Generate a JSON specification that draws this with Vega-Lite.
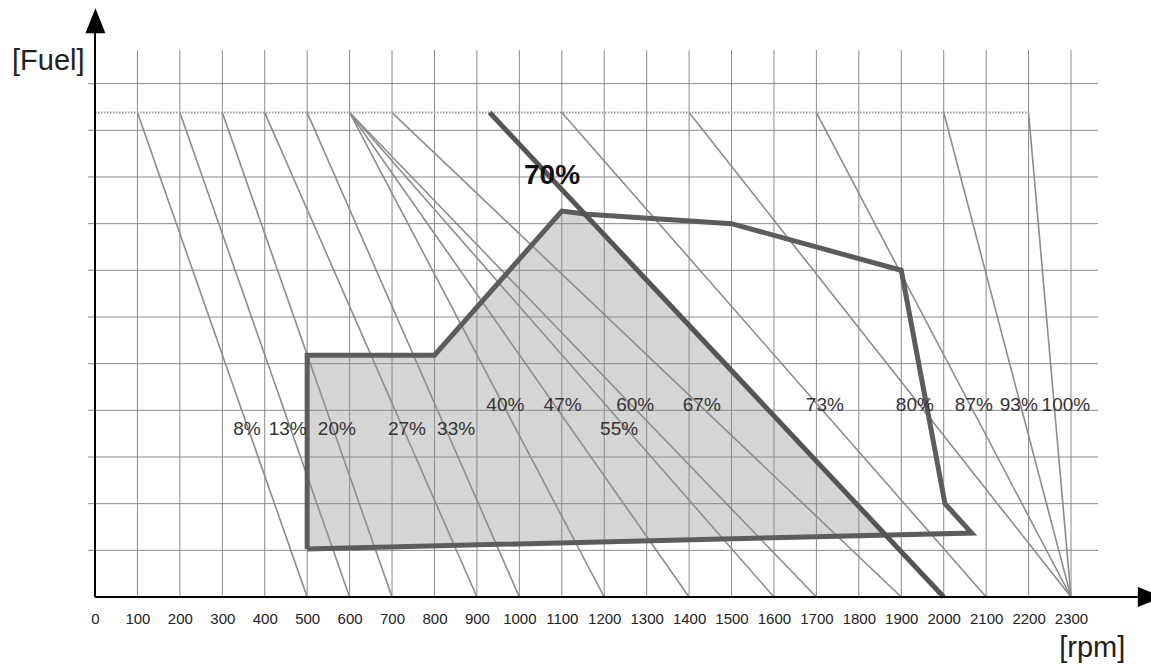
{
  "$schema": "https://vega.github.io/schema/vega-lite/v6.json",
  "width": 1056,
  "height": 597,
  "autosize": {"type": "none"},
  "padding": {"left": 95, "top": 0, "right": 0, "bottom": 67},
  "background": "white",
  "config": {"view": {"stroke": null}},
  "datasets": {
    "vgrid": [{"rpm":100},{"rpm":200},{"rpm":300},{"rpm":400},{"rpm":500},{"rpm":600},{"rpm":700},{"rpm":800},{"rpm":900},{"rpm":1000},{"rpm":1100},{"rpm":1200},{"rpm":1300},{"rpm":1400},{"rpm":1500},{"rpm":1600},{"rpm":1700},{"rpm":1800},{"rpm":1900},{"rpm":2000},{"rpm":2100},{"rpm":2200},{"rpm":2300}],
    "hgrid": [{"fuel":1},{"fuel":2},{"fuel":3},{"fuel":4},{"fuel":5},{"fuel":6},{"fuel":7},{"fuel":8},{"fuel":9},{"fuel":10},{"fuel":11}],
    "shade": [
      {"rpm":500,"fuel":5.18,"fuel_low":1.03},
      {"rpm":800,"fuel":5.18,"fuel_low":1.095},
      {"rpm":1100,"fuel":8.27,"fuel_low":1.16},
      {"rpm":1153,"fuel":8.21,"fuel_low":1.17},
      {"rpm":1863,"fuel":1.33,"fuel_low":1.33}
    ],
    "droop": [
      {"id":"8%","rpm":100,"fuel":10.38},{"id":"8%","rpm":500,"fuel":0},
      {"id":"13%","rpm":200,"fuel":10.38},{"id":"13%","rpm":600,"fuel":0},
      {"id":"20%","rpm":300,"fuel":10.38},{"id":"20%","rpm":700,"fuel":0},
      {"id":"27%","rpm":400,"fuel":10.38},{"id":"27%","rpm":900,"fuel":0},
      {"id":"33%","rpm":500,"fuel":10.38},{"id":"33%","rpm":1000,"fuel":0},
      {"id":"40%","rpm":600,"fuel":10.38},{"id":"40%","rpm":1200,"fuel":0},
      {"id":"47%","rpm":600,"fuel":10.38},{"id":"47%","rpm":1400,"fuel":0},
      {"id":"55%","rpm":600,"fuel":10.38},{"id":"55%","rpm":1600,"fuel":0},
      {"id":"60%","rpm":600,"fuel":10.38},{"id":"60%","rpm":1700,"fuel":0},
      {"id":"67%","rpm":700,"fuel":10.38},{"id":"67%","rpm":1900,"fuel":0},
      {"id":"73%","rpm":1100,"fuel":10.38},{"id":"73%","rpm":2100,"fuel":0},
      {"id":"80%","rpm":1400,"fuel":10.38},{"id":"80%","rpm":2300,"fuel":0},
      {"id":"87%","rpm":1700,"fuel":10.38},{"id":"87%","rpm":2300,"fuel":0},
      {"id":"93%","rpm":2000,"fuel":10.38},{"id":"93%","rpm":2300,"fuel":0},
      {"id":"100%","rpm":2200,"fuel":10.38},{"id":"100%","rpm":2300,"fuel":0}
    ],
    "toplimit": [{"rpm":0,"fuel":10.38},{"rpm":2200,"fuel":10.38}],
    "outline": [
      {"seq":1,"rpm":500,"fuel":1.03},
      {"seq":2,"rpm":500,"fuel":5.18},
      {"seq":3,"rpm":800,"fuel":5.18},
      {"seq":4,"rpm":1100,"fuel":8.27},
      {"seq":5,"rpm":1160,"fuel":8.2},
      {"seq":6,"rpm":1500,"fuel":8.0},
      {"seq":7,"rpm":1900,"fuel":7.0},
      {"seq":8,"rpm":2003,"fuel":2.0},
      {"seq":9,"rpm":2066,"fuel":1.37},
      {"seq":10,"rpm":500,"fuel":1.03}
    ],
    "line70": [{"rpm":930,"fuel":10.38},{"rpm":2000,"fuel":0}],
    "pct": [
      {"label":"8%","rpm":358,"fuel":3.6},
      {"label":"13%","rpm":454,"fuel":3.6},
      {"label":"20%","rpm":570,"fuel":3.6},
      {"label":"27%","rpm":735,"fuel":3.6},
      {"label":"33%","rpm":851,"fuel":3.6},
      {"label":"40%","rpm":967,"fuel":4.11},
      {"label":"47%","rpm":1102,"fuel":4.11},
      {"label":"55%","rpm":1235,"fuel":3.6},
      {"label":"60%","rpm":1273,"fuel":4.11},
      {"label":"67%","rpm":1430,"fuel":4.11},
      {"label":"73%","rpm":1720,"fuel":4.11},
      {"label":"80%","rpm":1932,"fuel":4.11},
      {"label":"87%","rpm":2071,"fuel":4.11},
      {"label":"93%","rpm":2177,"fuel":4.11},
      {"label":"100%","rpm":2288,"fuel":4.11}
    ],
    "bold": [{"label":"70%","rpm":1077,"fuel":9.02}],
    "titles": [
      {"label":"[Fuel]","rpm":-110,"fuel":11.49},
      {"label":"[rpm]","rpm":2350,"fuel":-1.1}
    ],
    "axes": [
      {"rpm":0,"fuel":0,"rpm2":0,"fuel2":12.1},
      {"rpm":0,"fuel":0,"rpm2":2460,"fuel2":0}
    ],
    "arrowUp": [{"rpm":1,"fuel":12.35}],
    "arrowRight": [{"rpm":2487,"fuel":0}]
  },
  "layer": [
    {
      "data": {"name": "shade"},
      "mark": {"type": "area", "color": "#d5d5d5", "opacity": 1},
      "encoding": {
        "x": {"field": "rpm", "type": "quantitative", "scale": {"domain": [0, 2488.5], "nice": false, "zero": false},
          "axis": {"values": [0,100,200,300,400,500,600,700,800,900,1000,1100,1200,1300,1400,1500,1600,1700,1800,1900,2000,2100,2200,2300], "format": "d", "domain": false, "ticks": false, "grid": false, "title": null, "labelFont": "Liberation Sans", "labelFontSize": 15, "labelColor": "#222222", "labelPadding": 14, "labelFlush": false, "labelOverlap": false}},
        "y": {"field": "fuel", "type": "quantitative", "scale": {"domain": [0, 12.792], "nice": false, "zero": false}, "axis": null},
        "y2": {"field": "fuel_low"}
      }
    },
    {
      "data": {"name": "vgrid"},
      "mark": {"type": "rule", "color": "#8a8a8a", "strokeWidth": 1},
      "encoding": {
        "x": {"field": "rpm", "type": "quantitative", "scale": {"domain": [0, 2488.5], "nice": false, "zero": false},
          "axis": {"values": [0,100,200,300,400,500,600,700,800,900,1000,1100,1200,1300,1400,1500,1600,1700,1800,1900,2000,2100,2200,2300], "format": "d", "domain": false, "ticks": false, "grid": false, "title": null, "labelFont": "Liberation Sans", "labelFontSize": 15, "labelColor": "#222222", "labelPadding": 14, "labelFlush": false, "labelOverlap": false}},
        "y": {"datum": 0, "type": "quantitative", "scale": {"domain": [0, 12.792], "nice": false, "zero": false}, "axis": null},
        "y2": {"datum": 11.72}
      }
    },
    {
      "data": {"name": "hgrid"},
      "mark": {"type": "rule", "color": "#8a8a8a", "strokeWidth": 1},
      "encoding": {
        "x": {"datum": -16.5, "type": "quantitative", "scale": {"domain": [0, 2488.5], "nice": false, "zero": false},
          "axis": {"values": [0,100,200,300,400,500,600,700,800,900,1000,1100,1200,1300,1400,1500,1600,1700,1800,1900,2000,2100,2200,2300], "format": "d", "domain": false, "ticks": false, "grid": false, "title": null, "labelFont": "Liberation Sans", "labelFontSize": 15, "labelColor": "#222222", "labelPadding": 14, "labelFlush": false, "labelOverlap": false}},
        "x2": {"datum": 2364},
        "y": {"field": "fuel", "type": "quantitative", "scale": {"domain": [0, 12.792], "nice": false, "zero": false}, "axis": null}
      }
    },
    {
      "data": {"name": "droop"},
      "mark": {"type": "line", "color": "#8c8c8c", "strokeWidth": 1.6},
      "encoding": {
        "x": {"field": "rpm", "type": "quantitative", "scale": {"domain": [0, 2488.5], "nice": false, "zero": false},
          "axis": {"values": [0,100,200,300,400,500,600,700,800,900,1000,1100,1200,1300,1400,1500,1600,1700,1800,1900,2000,2100,2200,2300], "format": "d", "domain": false, "ticks": false, "grid": false, "title": null, "labelFont": "Liberation Sans", "labelFontSize": 15, "labelColor": "#222222", "labelPadding": 14, "labelFlush": false, "labelOverlap": false}},
        "y": {"field": "fuel", "type": "quantitative", "scale": {"domain": [0, 12.792], "nice": false, "zero": false}, "axis": null},
        "detail": {"field": "id"}
      }
    },
    {
      "data": {"name": "toplimit"},
      "mark": {"type": "line", "color": "#9a9a9a", "strokeWidth": 2, "strokeDash": [1.5, 1.5]},
      "encoding": {
        "x": {"field": "rpm", "type": "quantitative", "scale": {"domain": [0, 2488.5], "nice": false, "zero": false},
          "axis": {"values": [0,100,200,300,400,500,600,700,800,900,1000,1100,1200,1300,1400,1500,1600,1700,1800,1900,2000,2100,2200,2300], "format": "d", "domain": false, "ticks": false, "grid": false, "title": null, "labelFont": "Liberation Sans", "labelFontSize": 15, "labelColor": "#222222", "labelPadding": 14, "labelFlush": false, "labelOverlap": false}},
        "y": {"field": "fuel", "type": "quantitative", "scale": {"domain": [0, 12.792], "nice": false, "zero": false}, "axis": null}
      }
    },
    {
      "data": {"name": "outline"},
      "mark": {"type": "line", "color": "#5c5c5c", "strokeWidth": 5, "strokeJoin": "miter"},
      "encoding": {
        "x": {"field": "rpm", "type": "quantitative", "scale": {"domain": [0, 2488.5], "nice": false, "zero": false},
          "axis": {"values": [0,100,200,300,400,500,600,700,800,900,1000,1100,1200,1300,1400,1500,1600,1700,1800,1900,2000,2100,2200,2300], "format": "d", "domain": false, "ticks": false, "grid": false, "title": null, "labelFont": "Liberation Sans", "labelFontSize": 15, "labelColor": "#222222", "labelPadding": 14, "labelFlush": false, "labelOverlap": false}},
        "y": {"field": "fuel", "type": "quantitative", "scale": {"domain": [0, 12.792], "nice": false, "zero": false}, "axis": null},
        "order": {"field": "seq", "type": "quantitative"}
      }
    },
    {
      "data": {"name": "line70"},
      "mark": {"type": "line", "color": "#555555", "strokeWidth": 5},
      "encoding": {
        "x": {"field": "rpm", "type": "quantitative", "scale": {"domain": [0, 2488.5], "nice": false, "zero": false},
          "axis": {"values": [0,100,200,300,400,500,600,700,800,900,1000,1100,1200,1300,1400,1500,1600,1700,1800,1900,2000,2100,2200,2300], "format": "d", "domain": false, "ticks": false, "grid": false, "title": null, "labelFont": "Liberation Sans", "labelFontSize": 15, "labelColor": "#222222", "labelPadding": 14, "labelFlush": false, "labelOverlap": false}},
        "y": {"field": "fuel", "type": "quantitative", "scale": {"domain": [0, 12.792], "nice": false, "zero": false}, "axis": null}
      }
    },
    {
      "data": {"name": "pct"},
      "mark": {"type": "text", "font": "Liberation Sans", "fontSize": 19, "color": "#333333", "align": "center", "baseline": "middle"},
      "encoding": {
        "x": {"field": "rpm", "type": "quantitative", "scale": {"domain": [0, 2488.5], "nice": false, "zero": false},
          "axis": {"values": [0,100,200,300,400,500,600,700,800,900,1000,1100,1200,1300,1400,1500,1600,1700,1800,1900,2000,2100,2200,2300], "format": "d", "domain": false, "ticks": false, "grid": false, "title": null, "labelFont": "Liberation Sans", "labelFontSize": 15, "labelColor": "#222222", "labelPadding": 14, "labelFlush": false, "labelOverlap": false}},
        "y": {"field": "fuel", "type": "quantitative", "scale": {"domain": [0, 12.792], "nice": false, "zero": false}, "axis": null},
        "text": {"field": "label"}
      }
    },
    {
      "data": {"name": "bold"},
      "mark": {"type": "text", "font": "Liberation Sans", "fontSize": 28, "fontWeight": "bold", "color": "#111111", "align": "center", "baseline": "middle"},
      "encoding": {
        "x": {"field": "rpm", "type": "quantitative", "scale": {"domain": [0, 2488.5], "nice": false, "zero": false},
          "axis": {"values": [0,100,200,300,400,500,600,700,800,900,1000,1100,1200,1300,1400,1500,1600,1700,1800,1900,2000,2100,2200,2300], "format": "d", "domain": false, "ticks": false, "grid": false, "title": null, "labelFont": "Liberation Sans", "labelFontSize": 15, "labelColor": "#222222", "labelPadding": 14, "labelFlush": false, "labelOverlap": false}},
        "y": {"field": "fuel", "type": "quantitative", "scale": {"domain": [0, 12.792], "nice": false, "zero": false}, "axis": null},
        "text": {"field": "label"}
      }
    },
    {
      "data": {"name": "titles"},
      "mark": {"type": "text", "font": "Liberation Sans", "fontSize": 29, "color": "#222222", "align": "center", "baseline": "middle"},
      "encoding": {
        "x": {"field": "rpm", "type": "quantitative", "scale": {"domain": [0, 2488.5], "nice": false, "zero": false},
          "axis": {"values": [0,100,200,300,400,500,600,700,800,900,1000,1100,1200,1300,1400,1500,1600,1700,1800,1900,2000,2100,2200,2300], "format": "d", "domain": false, "ticks": false, "grid": false, "title": null, "labelFont": "Liberation Sans", "labelFontSize": 15, "labelColor": "#222222", "labelPadding": 14, "labelFlush": false, "labelOverlap": false}},
        "y": {"field": "fuel", "type": "quantitative", "scale": {"domain": [0, 12.792], "nice": false, "zero": false}, "axis": null},
        "text": {"field": "label"}
      }
    },
    {
      "data": {"name": "axes"},
      "mark": {"type": "rule", "color": "#000000", "strokeWidth": 2},
      "encoding": {
        "x": {"field": "rpm", "type": "quantitative", "scale": {"domain": [0, 2488.5], "nice": false, "zero": false},
          "axis": {"values": [0,100,200,300,400,500,600,700,800,900,1000,1100,1200,1300,1400,1500,1600,1700,1800,1900,2000,2100,2200,2300], "format": "d", "domain": false, "ticks": false, "grid": false, "title": null, "labelFont": "Liberation Sans", "labelFontSize": 15, "labelColor": "#222222", "labelPadding": 14, "labelFlush": false, "labelOverlap": false}},
        "y": {"field": "fuel", "type": "quantitative", "scale": {"domain": [0, 12.792], "nice": false, "zero": false}, "axis": null},
        "x2": {"field": "rpm2"},
        "y2": {"field": "fuel2"}
      }
    },
    {
      "data": {"name": "arrowUp"},
      "mark": {"type": "point", "shape": "M-0.8,1L0,-1L0.8,1Z", "filled": true, "color": "#000000", "opacity": 1, "size": 625},
      "encoding": {
        "x": {"field": "rpm", "type": "quantitative", "scale": {"domain": [0, 2488.5], "nice": false, "zero": false},
          "axis": {"values": [0,100,200,300,400,500,600,700,800,900,1000,1100,1200,1300,1400,1500,1600,1700,1800,1900,2000,2100,2200,2300], "format": "d", "domain": false, "ticks": false, "grid": false, "title": null, "labelFont": "Liberation Sans", "labelFontSize": 15, "labelColor": "#222222", "labelPadding": 14, "labelFlush": false, "labelOverlap": false}},
        "y": {"field": "fuel", "type": "quantitative", "scale": {"domain": [0, 12.792], "nice": false, "zero": false}, "axis": null}
      }
    },
    {
      "data": {"name": "arrowRight"},
      "mark": {"type": "point", "shape": "M-1,-0.8L1,0L-1,0.8Z", "filled": true, "color": "#000000", "opacity": 1, "size": 625},
      "encoding": {
        "x": {"field": "rpm", "type": "quantitative", "scale": {"domain": [0, 2488.5], "nice": false, "zero": false},
          "axis": {"values": [0,100,200,300,400,500,600,700,800,900,1000,1100,1200,1300,1400,1500,1600,1700,1800,1900,2000,2100,2200,2300], "format": "d", "domain": false, "ticks": false, "grid": false, "title": null, "labelFont": "Liberation Sans", "labelFontSize": 15, "labelColor": "#222222", "labelPadding": 14, "labelFlush": false, "labelOverlap": false}},
        "y": {"field": "fuel", "type": "quantitative", "scale": {"domain": [0, 12.792], "nice": false, "zero": false}, "axis": null}
      }
    }
  ]
}
